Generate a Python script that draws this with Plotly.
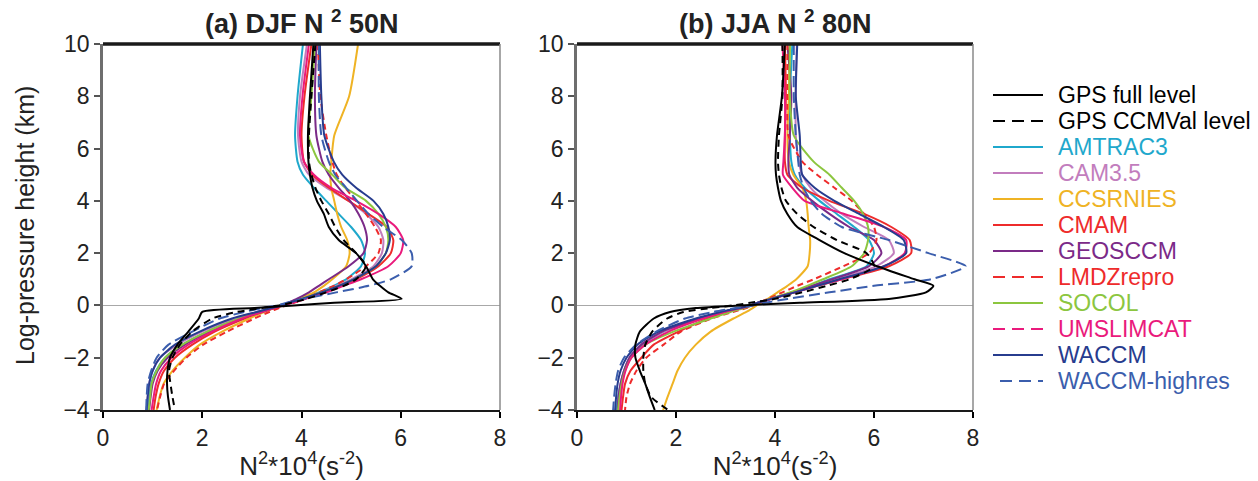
import plotly.graph_objects as go

# ---------------- data ----------------
levels_km = [10, 8, 6.5, 5.5, 5, 4.5, 4, 3.5, 3, 2.5, 2, 1.5, 1.0, 0.75, 0.5, 0.25, 0.1, 0,
             -0.1, -0.25, -0.5, -1, -1.5, -2, -2.5, -3, -3.5, -4]

model_names = ["GPS full level", "GPS CCMVal level", "AMTRAC3", "CAM3.5", "CCSRNIES", "CMAM",
               "GEOSCCM", "LMDZrepro", "SOCOL", "UMSLIMCAT", "WACCM", "WACCM-highres"]

# DJF 50N  (N^2 * 1e4, s^-2)
djf_gps_full = [4.24, 4.17, 4.13, 4.14, 4.17, 4.22, 4.31, 4.45, 4.55, 4.75, 5.1, 5.3, 5.44, 5.58, 5.75, 6.02,
                4.66, 3.85, 3.05, 2.0, 1.93, 1.72, 1.5, 1.35, 1.3, 1.29, 1.31, 1.35]
djf_gps_ccmval = [4.28, 4.2, 4.15, 4.15, 4.2, 4.28, 4.4, 4.55, 4.68, 4.85, 5.1, 5.3, 5.1, 4.85, 4.5, 4.1,
                  3.8, 3.55, 3.2, 2.7, 2.2, 1.8, 1.55, 1.4, 1.33, 1.36, 1.4, 1.45]
djf_amtrac3 = [4.03, 3.92, 3.87, 3.92, 4.03, 4.25, 4.5, 4.75, 5.0, 5.2, 5.28, 5.2, 4.9, 4.65, 4.35, 4.0,
               3.75, 3.6, 3.4, 3.1, 2.7, 2.1, 1.6, 1.25, 1.07, 0.97, 0.93, 0.9]
djf_cam35 = [4.11, 3.97, 3.93, 4.0, 4.15, 4.5, 4.95, 5.3, 5.55, 5.65, 5.62, 5.45, 5.0, 4.7, 4.4, 4.0,
             3.75, 3.6, 3.4, 3.1, 2.65, 2.0, 1.5, 1.15, 1.0, 0.93, 0.9, 0.88]
djf_ccsrnies = [5.14, 4.96, 4.66, 4.6, 4.58, 4.6, 4.66, 4.72, 4.8, 4.92, 4.97, 4.9, 4.62, 4.45, 4.25, 3.95,
                3.75, 3.6, 3.45, 3.25, 2.95, 2.4, 1.95, 1.65, 1.4, 1.22, 1.14, 1.08]
djf_cmam = [4.2, 4.06, 4.0, 4.05, 4.22, 4.55, 4.95, 5.35, 5.72, 5.85, 5.8, 5.55, 5.1, 4.8, 4.45, 4.05,
            3.8, 3.62, 3.45, 3.2, 2.85, 2.25, 1.8, 1.45, 1.23, 1.12, 1.06, 1.02]
djf_geosccm = [4.3, 4.27, 4.3, 4.42, 4.55, 4.75, 4.98, 5.15, 5.27, 5.32, 5.25, 4.95, 4.55, 4.35, 4.15, 3.9,
               3.72, 3.6, 3.45, 3.2, 2.8, 2.15, 1.65, 1.3, 1.1, 1.0, 0.96, 0.93]
djf_lmdzrepro = [4.33, 4.38, 4.5, 4.62, 4.71, 4.88, 5.1, 5.3, 5.48, 5.6, 5.55, 5.3, 4.9, 4.65, 4.35, 4.05,
                 3.85, 3.7, 3.55, 3.35, 3.05, 2.5, 2.02, 1.68, 1.43, 1.23, 1.15, 1.09]
djf_socol = [4.27, 4.2, 4.14, 4.35, 4.62, 4.88, 5.3, 5.55, 5.7, 5.75, 5.7, 5.5, 5.05, 4.75, 4.4, 4.0,
             3.78, 3.6, 3.42, 3.15, 2.75, 2.1, 1.6, 1.25, 1.08, 0.98, 0.95, 0.92]
djf_umslimcat = [4.15, 4.02, 3.97, 4.05, 4.25, 4.6, 5.1, 5.55, 5.9, 6.05, 6.0, 5.75, 5.2, 4.85, 4.5, 4.08,
                 3.82, 3.62, 3.45, 3.2, 2.8, 2.2, 1.72, 1.38, 1.17, 1.07, 1.02, 0.98]
djf_waccm = [4.37, 4.4, 4.46, 4.65, 4.82, 5.1, 5.45, 5.65, 5.75, 5.78, 5.7, 5.5, 5.05, 4.75, 4.4, 4.0,
             3.75, 3.58, 3.4, 3.1, 2.6, 1.95, 1.45, 1.15, 1.0, 0.93, 0.9, 0.88]
djf_waccm_highres = [4.35, 4.35, 4.4, 4.55, 4.68, 4.9, 5.12, 5.35, 5.65, 6.02, 6.22, 6.22, 5.8, 5.35, 4.7, 4.05,
                     3.7, 3.5, 3.2, 2.85, 2.35, 1.8, 1.32, 1.08, 0.97, 0.9, 0.88, 0.87]

# JJA 80N
jja_gps_full = [4.2, 4.14, 4.04, 4.01, 4.02, 4.06, 4.12, 4.25, 4.45, 4.9, 5.4, 6.06, 6.82, 7.2, 7.05, 6.3,
                4.5, 3.3, 2.4, 1.88, 1.55, 1.27, 1.18, 1.18, 1.27, 1.38, 1.47, 1.57]
jja_gps_ccmval = [4.15, 4.15, 4.08, 4.06, 4.08, 4.13, 4.22, 4.45, 4.78, 5.25, 5.85, 6.0, 5.5, 5.05, 4.55, 4.0,
                  3.5, 3.15, 2.7, 2.15, 1.82, 1.52, 1.38, 1.34, 1.34, 1.38, 1.5, 1.84]
jja_amtrac3 = [4.35, 4.3, 4.3, 4.33, 4.4, 4.6, 4.9, 5.25, 5.6, 5.9, 6.0, 5.85, 5.1, 4.75, 4.35, 3.9,
               3.65, 3.5, 3.3, 2.95, 2.5, 1.75, 1.32, 1.07, 0.95, 0.88, 0.83, 0.8]
jja_cam35 = [4.44, 4.42, 4.42, 4.48, 4.55, 4.72, 5.0, 5.35, 5.8, 6.3, 6.4, 6.05, 5.25, 4.8, 4.38, 3.92,
             3.65, 3.5, 3.3, 2.95, 2.5, 1.75, 1.3, 1.06, 0.95, 0.88, 0.84, 0.82]
jja_ccsrnies = [4.3, 4.28, 4.25, 4.28, 4.37, 4.55, 4.63, 4.66, 4.68, 4.71, 4.7, 4.66, 4.43, 4.25, 4.05, 3.85,
                3.72, 3.63, 3.55, 3.42, 3.16, 2.7, 2.4, 2.18, 2.03, 1.93, 1.83, 1.74]
jja_cmam = [4.2, 4.22, 4.2, 4.2, 4.25, 4.55, 5.1, 5.8, 6.35, 6.72, 6.75, 6.3, 5.35, 4.85, 4.4, 3.93,
            3.67, 3.52, 3.35, 3.05, 2.65, 2.05, 1.55, 1.3, 1.08, 0.97, 0.93, 0.9]
jja_geosccm = [4.25, 4.33, 4.3, 4.27, 4.29, 4.45, 4.75, 5.1, 5.5, 6.0, 6.15, 5.9, 5.15, 4.75, 4.35, 3.9,
               3.65, 3.5, 3.3, 2.95, 2.5, 1.72, 1.3, 1.06, 0.95, 0.88, 0.84, 0.82]
jja_lmdzrepro = [4.25, 4.25, 4.27, 4.55, 4.85, 5.2, 5.55, 5.8, 6.0, 6.05, 5.9, 5.38, 4.78, 4.45, 4.15, 3.85,
                 3.68, 3.57, 3.42, 3.15, 2.72, 2.1, 1.75, 1.4, 1.2, 1.07, 1.0, 0.97]
jja_socol = [4.3, 4.3, 4.38, 4.78, 5.1, 5.35, 5.6, 5.78, 5.88, 5.88, 5.8, 5.55, 4.97, 4.65, 4.3, 3.9,
             3.67, 3.55, 3.38, 3.1, 2.7, 1.95, 1.38, 1.1, 0.97, 0.9, 0.86, 0.83]
jja_umslimcat = [4.15, 4.2, 4.2, 4.17, 4.16, 4.35, 4.6, 5.4, 6.2, 6.65, 6.62, 6.2, 5.35, 4.85, 4.4, 3.93,
                 3.67, 3.52, 3.32, 2.98, 2.55, 1.85, 1.38, 1.1, 0.98, 0.92, 0.89, 0.87]
jja_waccm = [4.45, 4.42, 4.5, 4.52, 4.55, 4.8, 5.2, 5.7, 6.2, 6.6, 6.65, 6.2, 5.3, 4.85, 4.4, 3.92,
             3.65, 3.5, 3.28, 2.9, 2.4, 1.65, 1.22, 1.0, 0.88, 0.82, 0.79, 0.77]
jja_waccm_highres = [4.38, 4.38, 4.42, 4.47, 4.5, 4.58, 4.72, 4.95, 5.35, 6.3, 7.1, 7.85, 7.15, 6.0, 5.1, 4.25,
                     3.8, 3.55, 3.2, 2.75, 2.18, 1.6, 1.2, 0.95, 0.83, 0.78, 0.75, 0.73]

x_ticks = [0, 2, 4, 6, 8]
y_ticks = [-4, -2, 0, 2, 4, 6, 8, 10]

# ---------------- style ----------------
colors = ["#000000", "#000000", "#1FA8CC", "#C27DBD", "#EFB324", "#EE2B2B",
          "#7B2A88", "#EE2B2B", "#8CC63F", "#EA1A7C", "#273C8E", "#3B5EAD"]
plot_dash = ["solid", "7px,5px", "solid", "solid", "solid", "solid",
             "solid", "6px,4px", "solid", "solid", "solid", "11px,5px"]
legend_dash = ["solid", "12px,7px", "solid", "solid", "solid", "solid",
               "solid", "12px,7px", "solid", "12px,7px", "solid", "12px,7px"]

djf_series = [djf_gps_full, djf_gps_ccmval, djf_amtrac3, djf_cam35, djf_ccsrnies, djf_cmam,
              djf_geosccm, djf_lmdzrepro, djf_socol, djf_umslimcat, djf_waccm, djf_waccm_highres]
jja_series = [jja_gps_full, jja_gps_ccmval, jja_amtrac3, jja_cam35, jja_ccsrnies, jja_cmam,
              jja_geosccm, jja_lmdzrepro, jja_socol, jja_umslimcat, jja_waccm, jja_waccm_highres]

FONT = "Liberation Sans, Arial, Helvetica, sans-serif"
TXT = "#222222"
W, H = 1258, 481

fig = go.Figure()

# draw order: models first, GPS last (on top)
order = list(range(2, 12)) + [1, 0]
for series, xa, ya in [(djf_series, "x", "y"), (jja_series, "x2", "y2")]:
    for i in order:
        fig.add_trace(go.Scatter(
            x=series[i], y=levels_km, mode="lines", xaxis=xa, yaxis=ya,
            line=dict(color=colors[i], width=2, dash=plot_dash[i], shape="spline", smoothing=0.6),
            name=model_names[i], showlegend=False, hoverinfo="name+x+y"))

dom_x1 = [103 / W, 500 / W]
dom_x2 = [577 / W, 973 / W]
dom_y = [71 / H, 437 / H]

XTITLE = "N<sup>2</sup>*10<sup>4</sup>(s<sup>-2</sup>)"

def xaxis_cfg(domain, anchor):
    return dict(domain=domain, anchor=anchor, range=[0, 8], tickvals=x_ticks, automargin=False,
                ticks="outside", ticklen=6, tickwidth=1.5, tickcolor="#000000",
                showline=True, linecolor="#1a1a1a", linewidth=2, showgrid=False, zeroline=False,
                tickfont=dict(family=FONT, size=23, color=TXT),
                title=dict(text=XTITLE, font=dict(family=FONT, size=26, color=TXT), standoff=0))

def yaxis_cfg(anchor):
    return dict(domain=dom_y, anchor=anchor, range=[-4, 10], tickvals=y_ticks, automargin=False,
                ticks="outside", ticklen=6, tickwidth=1.5, tickcolor="#555555",
                showline=True, linecolor="#6e6e6e", linewidth=2.5, showgrid=False,
                zeroline=True, zerolinecolor="#a8a8a8", zerolinewidth=1,
                tickfont=dict(family=FONT, size=23, color=TXT))

shapes = []
for xd, yd in [("x domain", "y domain"), ("x2 domain", "y2 domain")]:
    shapes.append(dict(type="line", xref=xd, yref=yd, x0=0, x1=1, y0=1, y1=1,
                       line=dict(color="#1a1a1a", width=3.5)))
    shapes.append(dict(type="line", xref=xd, yref=yd, x0=1, x1=1, y0=0, y1=1,
                       line=dict(color="#8a8a8a", width=1.5)))

annotations = [
    dict(text="<b>(a) DJF N <sup>2</sup> 50N</b>", xref="paper", yref="paper",
         x=sum(dom_x1) / 2, y=1 - 22 / H, showarrow=False, xanchor="center", yanchor="middle",
         font=dict(family=FONT, size=27, color=TXT)),
    dict(text="<b>(b) JJA N <sup>2</sup> 80N</b>", xref="paper", yref="paper",
         x=sum(dom_x2) / 2, y=1 - 22 / H, showarrow=False, xanchor="center", yanchor="middle",
         font=dict(family=FONT, size=27, color=TXT)),
    dict(text="Log-pressure height (km)", xref="paper", yref="paper", textangle=-90,
         x=25 / W, y=1 - 226 / H, showarrow=False, xanchor="center", yanchor="middle",
         font=dict(family=FONT, size=25, color=TXT)),
]

# legend drawn on the right: line sample + coloured label
leg_y0, leg_dy = 95, 26
for i, nm in enumerate(model_names):
    yc = 1 - (leg_y0 + leg_dy * i) / H
    xs = 1000 if i == 11 else 993
    shapes.append(dict(type="line", xref="paper", yref="paper",
                       x0=xs / W, x1=1043 / W, y0=yc, y1=yc,
                       line=dict(color=colors[i], width=2, dash=legend_dash[i])))
    annotations.append(dict(text=nm, xref="paper", yref="paper", x=1056 / W, y=yc,
                            xanchor="left", yanchor="middle", showarrow=False,
                            font=dict(family=FONT, size=23, color=colors[i])))

fig.update_layout(
    width=W, height=H, margin=dict(l=0, r=0, t=0, b=0, autoexpand=False),
    paper_bgcolor="white", plot_bgcolor="white",
    font=dict(family=FONT, size=22, color=TXT),
    showlegend=False,
    xaxis=xaxis_cfg(dom_x1, "y"), yaxis=yaxis_cfg("x"),
    xaxis2=xaxis_cfg(dom_x2, "y2"), yaxis2=yaxis_cfg("x2"),
    shapes=shapes, annotations=annotations,
)

fig.write_html("out.html")
